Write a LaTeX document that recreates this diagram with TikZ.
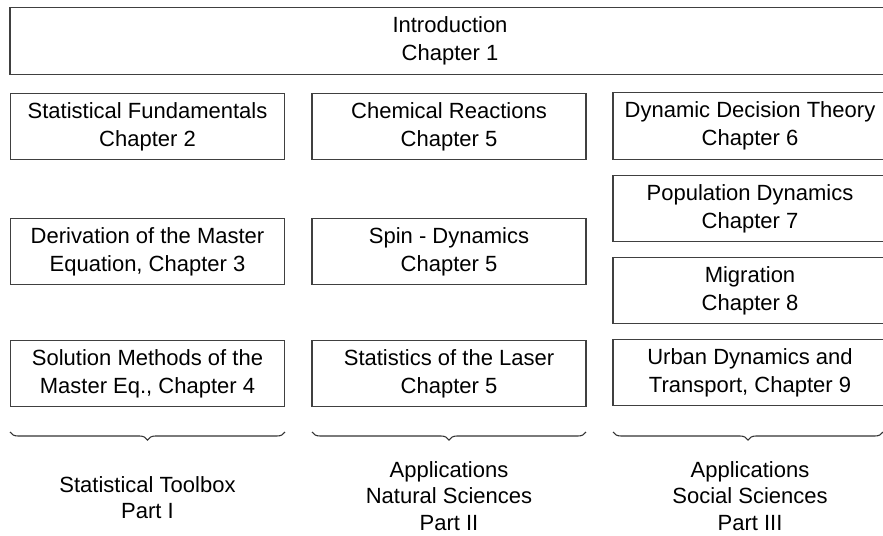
\documentclass[tikz,border=0pt]{standalone}
\usepackage{fontspec}
\setmainfont{Liberation Sans}
\usetikzlibrary{decorations.pathreplacing}
\tikzset{
  chap/.style={draw=black!75, line width=0.9pt, align=center, inner sep=0pt,
    minimum width=205.5pt, minimum height=50pt, font=\fontsize{16.5}{21}\selectfont},
  part/.style={align=center, inner sep=0pt, font=\fontsize{16.5}{20}\selectfont},
  partbrace/.style={draw=black!80, line width=0.8pt, decorate,
    decoration={brace, mirror, amplitude=6pt}}
}
\begin{document}
\begin{tikzpicture}[x=0.75pt,y=-0.75pt]
\useasboundingbox (0,0) rectangle (883,536);
\clip (0,0) rectangle (883,536);

\node[chap, minimum width=660pt] (intro) at (450,41) {Introduction\\Chapter 1};

% Part I
\node[chap] (fund) at (147.5,126.5) {Statistical Fundamentals\\Chapter 2};
\node[chap] (deriv) at (147.5,251.5) {Derivation of the Master\\Equation, Chapter 3};
\node[chap] (solve) at (147.5,373.5) {Solution Methods of the\\Master Eq., Chapter 4};

% Part II
\node[chap] (chem) at (449,126.5) {Chemical Reactions\\Chapter 5};
\node[chap] (spin) at (449,251.5) {Spin - Dynamics\\Chapter 5};
\node[chap] (laser) at (449,373.5) {Statistics of the Laser\\Chapter 5};

% Part III
\node[chap] (decis) at (750,126) {Dynamic Decision Theory\\Chapter 6};
\node[chap] (popul) at (750,208.5) {Population Dynamics\\Chapter 7};
\node[chap] (migr) at (750,290.5) {Migration\\Chapter 8};
\node[chap] (urban) at (750,372.5) {Urban Dynamics and\\Transport, Chapter 9};

\coordinate (b1l) at (10,432);  \coordinate (b1r) at (285,432);
\coordinate (b2l) at (312,432); \coordinate (b2r) at (586,432);
\coordinate (b3l) at (613,432); \coordinate (b3r) at (883,432);
\draw[partbrace] (b1l) -- (b1r);
\draw[partbrace] (b2l) -- (b2r);
\draw[partbrace] (b3l) -- (b3r);

\node[part] (part1) at (147.5,497.5) {Statistical Toolbox\\Part I};
\node[part] (part2) at (449,496) {Applications\\Natural Sciences\\Part II};
\node[part] (part3) at (750,496) {Applications\\Social Sciences\\Part III};
\end{tikzpicture}
\end{document}
